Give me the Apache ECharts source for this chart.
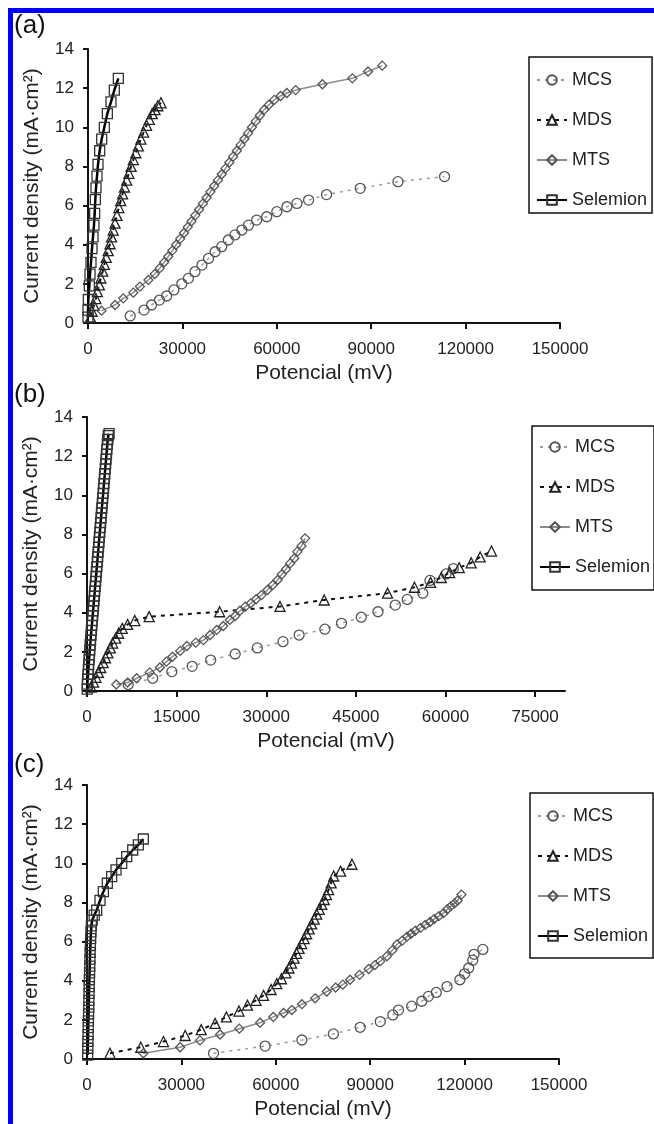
<!DOCTYPE html>
<html>
<head>
<meta charset="utf-8">
<script src="https://cdn.jsdelivr.net/npm/echarts@6/dist/echarts.min.js"></script>
<style>
  html, body { margin: 0; padding: 0; background: #fff; }
  #chart { width: 654px; height: 1124px; }
</style>
</head>
<body>
<div id="chart"></div>
<script>
// series names, panel labels, ticks
const seriesNames = ['MCS', 'MDS', 'MTS', 'Selemion'];
const panelLabels = ['(a)', '(b)', '(c)'];
const xTicksAC = [0, 30000, 60000, 90000, 120000, 150000];
const xTicksB = [0, 15000, 30000, 45000, 60000, 75000];
const yTicks = [0, 2, 4, 6, 8, 10, 12, 14];

// panel (a)  [potential mV, current density]
const aMCS = [[13400,0.36],[17800,0.66],[20200,0.92],[22700,1.17],[25000,1.38],[27300,1.69],[29800,2.0],[31900,2.28],[34000,2.62],[36200,2.96],[38300,3.3],[40400,3.64],[42500,3.9],[44600,4.24],[46700,4.5],[48900,4.75],[51000,5.0],[53600,5.26],[56800,5.43],[60000,5.69],[63200,5.94],[66400,6.11],[70100,6.28],[75800,6.56],[86500,6.88],[98500,7.22],[113300,7.48]];
const aMDS = [[800,0.3],[1300,0.6],[1900,0.9],[2500,1.25],[3000,1.6],[3600,1.95],[4100,2.3],[4700,2.65],[5200,3.0],[5800,3.35],[6400,3.7],[7000,4.05],[7500,4.4],[8000,4.75],[8600,5.1],[9200,5.5],[9800,5.9],[10400,6.25],[11000,6.6],[11600,6.95],[12300,7.3],[13000,7.65],[13700,8.0],[14400,8.35],[15200,8.7],[16000,9.05],[16800,9.4],[17700,9.75],[18600,10.1],[19500,10.4],[20400,10.7],[21300,10.9],[22200,11.1],[23200,11.25]];
const aMTS = [[4300,0.63],[8600,0.92],[11200,1.26],[14400,1.55],[16500,1.86],[19200,2.2],[21200,2.5],[22800,2.8],[24200,3.1],[25500,3.4],[26800,3.7],[28000,4.0],[29300,4.3],[30500,4.6],[31700,4.9],[32900,5.2],[34100,5.5],[35300,5.8],[36500,6.1],[37700,6.4],[38900,6.7],[40100,7.0],[41300,7.3],[42500,7.6],[43700,7.9],[44900,8.2],[46100,8.5],[47300,8.8],[48500,9.1],[49700,9.4],[50900,9.7],[52100,10.0],[53300,10.3],[54600,10.6],[56000,10.9],[57500,11.15],[59200,11.4],[61200,11.6],[63200,11.75],[66000,11.9],[74500,12.2],[84000,12.5],[89000,12.85],[93500,13.15]];
const aSel = [[0,0.3],[0,0.66],[110,1.2],[420,1.9],[640,2.5],[950,3.1],[1270,3.8],[1590,4.4],[1900,5.0],[2120,5.6],[2330,6.3],[2540,6.9],[2860,7.5],[3180,8.1],[3710,8.8],[4350,9.4],[5190,10.0],[6150,10.7],[7310,11.3],[8370,11.9],[9640,12.5]];

// panel (b)
const bMCS = [[6900,0.33],[11000,0.65],[14200,0.99],[17600,1.26],[20700,1.58],[24800,1.89],[28500,2.2],[32800,2.52],[35500,2.86],[39800,3.16],[42600,3.46],[45900,3.77],[48700,4.05],[51600,4.39],[53600,4.68],[56200,5.0],[57400,5.65],[60100,5.98],[61300,6.25]];
const bMDS = [[700,0.2],[1100,0.45],[1500,0.7],[1900,0.95],[2300,1.2],[2700,1.45],[3100,1.7],[3500,1.95],[3900,2.2],[4300,2.45],[4800,2.7],[5300,2.95],[5900,3.2],[6800,3.4],[8000,3.6],[10400,3.8],[22200,4.05],[32300,4.32],[39700,4.65],[50300,5.0],[54800,5.3],[57500,5.55],[59300,5.8],[60700,6.05],[62300,6.3],[64300,6.55],[65800,6.85],[67700,7.15]];
const bMTS = [[4900,0.33],[6800,0.43],[8300,0.65],[10500,0.95],[12200,1.2],[13300,1.5],[14300,1.75],[15600,2.05],[16700,2.3],[18200,2.47],[19500,2.6],[20600,2.86],[21700,3.12],[22800,3.32],[23900,3.63],[24800,3.83],[25600,4.1],[26500,4.31],[27400,4.48],[28300,4.69],[29200,4.9],[30200,5.16],[31100,5.42],[31900,5.67],[32600,5.96],[33300,6.22],[34000,6.52],[34700,6.78],[35200,7.12],[35900,7.41],[36500,7.8]];
const bSel = [[30,0.1],[60,0.35],[110,0.6],[170,0.85],[230,1.1],[290,1.35],[350,1.6],[410,1.85],[470,2.1],[530,2.35],[600,2.6],[670,2.85],[740,3.1],[810,3.35],[880,3.6],[950,3.85],[1020,4.1],[1090,4.35],[1160,4.6],[1230,4.85],[1300,5.1],[1370,5.35],[1440,5.6],[1510,5.85],[1580,6.1],[1650,6.35],[1720,6.6],[1790,6.85],[1860,7.1],[1930,7.35],[2000,7.6],[2070,7.85],[2140,8.1],[2210,8.35],[2280,8.6],[2350,8.85],[2420,9.1],[2490,9.35],[2560,9.6],[2630,9.85],[2700,10.1],[2770,10.35],[2840,10.6],[2910,10.85],[2980,11.1],[3050,11.35],[3120,11.6],[3190,11.85],[3260,12.1],[3330,12.35],[3400,12.6],[3480,12.85],[3560,13.05],[3700,13.15]];

// panel (c)
const cMCS = [[40200,0.29],[56600,0.66],[68300,0.97],[78300,1.28],[86800,1.62],[93200,1.91],[97200,2.25],[99000,2.5],[103200,2.7],[106400,2.95],[108500,3.2],[111000,3.4],[114400,3.7],[118500,4.05],[120000,4.35],[121300,4.65],[122600,5.05],[123000,5.35],[125800,5.6]];
const cMDS = [[7300,0.29],[17100,0.6],[24300,0.89],[31200,1.2],[36300,1.5],[40700,1.82],[44300,2.15],[48300,2.45],[51000,2.75],[53700,3.0],[56100,3.25],[58500,3.55],[60300,3.85],[61800,4.1],[63200,4.4],[64200,4.65],[65000,4.9],[65800,5.15],[66600,5.4],[67400,5.65],[68200,5.9],[69000,6.15],[69800,6.4],[70600,6.65],[71400,6.9],[72200,7.15],[73000,7.4],[73800,7.65],[74600,7.9],[75400,8.15],[76100,8.4],[76800,8.65],[77600,9.0],[78400,9.35],[80600,9.6],[84200,9.95]];
const cMTS = [[17900,0.29],[29600,0.6],[35900,0.95],[42300,1.25],[48400,1.55],[55000,1.85],[59200,2.15],[62500,2.35],[65100,2.5],[68300,2.8],[72500,3.1],[76200,3.45],[79000,3.65],[81300,3.8],[83600,4.05],[86600,4.3],[89500,4.6],[91500,4.8],[93200,5.0],[95300,5.25],[97000,5.55],[98500,5.85],[100200,6.05],[101700,6.25],[103000,6.4],[104300,6.55],[106000,6.7],[107500,6.85],[109000,7.0],[110300,7.15],[111800,7.3],[113300,7.45],[114500,7.65],[115600,7.8],[116800,7.95],[117800,8.1],[119000,8.4]];
const cSel = [[200,0.2],[250,0.55],[300,0.9],[350,1.25],[400,1.6],[450,1.95],[500,2.3],[550,2.65],[600,3.0],[650,3.35],[700,3.7],[760,4.05],[820,4.4],[880,4.75],[940,5.1],[1000,5.45],[1080,5.8],[1160,6.15],[1260,6.5],[1400,6.8],[1650,7.1],[2300,7.35],[3080,7.6],[4130,8.1],[5190,8.55],[6460,8.98],[7840,9.32],[9220,9.66],[11030,10.0],[12620,10.34],[14530,10.68],[16320,10.94],[17900,11.24]];

const panelData = [
  [aMCS, aMDS, aMTS, aSel],
  [bMCS, bMDS, bMTS, bSel],
  [cMCS, cMDS, cMTS, cSel],
];

const font = 'Liberation Sans, Arial, sans-serif';

const grids = [
  { left: 88, top: 49, width: 472, height: 274 },
  { left: 87, top: 417, width: 478, height: 274 },
  { left: 87, top: 785, width: 472, height: 274 },
];
const xMax = [150000, 80000, 150000];
const xTicks = [xTicksAC, xTicksB, xTicksAC];

const styles = {
  MCS: { symbol: 'circle', size: 10, line: { color: '#9a9a9a', width: 1.5, type: [3, 5] }, border: '#555' },
  MDS: { symbol: 'triangle', size: 10, line: { color: '#111', width: 2, type: [4, 5] }, border: '#222' },
  MTS: { symbol: 'diamond', size: 9, line: { color: '#8c8c8c', width: 1.5, type: 'solid' }, border: '#555' },
  Selemion: { symbol: 'rect', size: 10, line: { color: '#000', width: 2.5, type: 'solid' }, border: '#333' },
};

const axisLine = { show: true, lineStyle: { color: '#111', width: 2 } };
const axisTick = { show: true, inside: false, length: 6, lineStyle: { color: '#111', width: 2 } };
const plain = v => String(v);

let xAxes = grids.map((g, i) => ({
  type: 'value', gridIndex: i, min: 0, max: xMax[i], interval: xTicks[i][1],
  name: 'Potencial (mV)', nameLocation: 'middle', nameGap: 40,
  nameTextStyle: { fontFamily: font, fontSize: 21, color: '#222' },
  axisLine, axisTick: Object.assign({ customValues: xTicks[i] }, axisTick),
  axisLabel: { customValues: xTicks[i], formatter: plain, fontFamily: font, fontSize: 17, color: '#222', margin: 18 },
  splitLine: { show: false },
}));

let yAxes = grids.map((g, i) => ({
  type: 'value', gridIndex: i, min: 0, max: 14, interval: 2,
  name: 'Current density (mA·cm²)', nameLocation: 'middle', nameGap: 45,
  nameTextStyle: { fontFamily: font, fontSize: 21, color: '#222' },
  axisLine, axisTick: Object.assign({}, axisTick, { length: 5 }),
  axisLabel: { customValues: yTicks, formatter: plain, fontFamily: font, fontSize: 17, color: '#222', margin: 14 },
  splitLine: { show: false },
}));

let series = [];
panelData.forEach((sets, p) => {
  sets.forEach((data, k) => {
    let name = seriesNames[k];
    let s = styles[name];
    series.push({
      type: 'line', name, xAxisIndex: p, yAxisIndex: p, data,
      symbol: s.symbol, symbolSize: s.size,
      itemStyle: { color: 'rgba(255,255,255,0)', borderColor: s.border, borderWidth: 1.3 },
      lineStyle: s.line,
      emphasis: { disabled: true },
    });
  });
});

const legendPos = [
  { left: 529, top: 57, padding: [13, 5, 3, 7] },
  { left: 532, top: 426, padding: [11, 4, 13, 7] },
  { left: 530, top: 793, padding: [13, 5, 12, 7] },
];
let legends = legendPos.map(l => Object.assign({
  orient: 'vertical', data: seriesNames,
  itemWidth: 30, itemHeight: 12, itemGap: 20,
  borderColor: '#111', borderWidth: 1.5, backgroundColor: '#fff',
  textStyle: { fontFamily: font, fontSize: 18, color: '#222', lineHeight: 20 },
}, l));

const labelTops = [13, 382, 752];
let graphics = [
  { type: 'rect', shape: { x: 8, y: 8, width: 5, height: 1116 }, style: { fill: '#0000ff' } },
  { type: 'rect', shape: { x: 8, y: 8, width: 646, height: 5 }, style: { fill: '#0000ff' } },
].concat(panelLabels.map((t, i) => ({
  type: 'text', left: 14, top: labelTops[i],
  style: { text: t, fontFamily: font, fontSize: 26, fill: '#111' },
})));

let myChart = echarts.init(document.getElementById('chart'), null, { renderer: 'canvas' });
myChart.setOption({
  backgroundColor: '#ffffff',
  animation: false,
  grid: grids,
  xAxis: xAxes,
  yAxis: yAxes,
  legend: legends,
  graphic: graphics,
  series,
});
</script>
</body>
</html>
